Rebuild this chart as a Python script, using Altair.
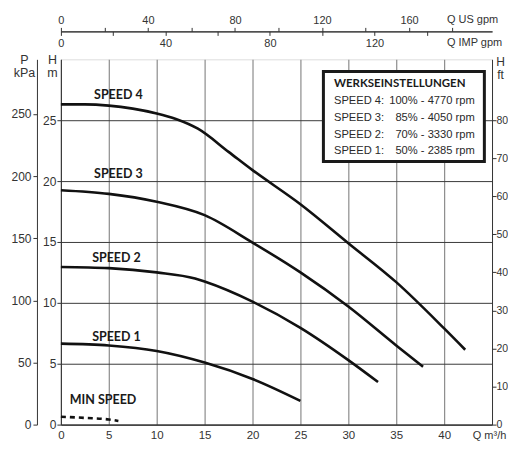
import altair as alt
import pandas as pd

# ---------------- data ----------------
q_s4 = [0, 2.5, 5, 7.5, 10, 12, 14.3, 17.5, 20, 25, 30, 35, 40, 42.2]
h_s4 = [26.3, 26.3, 26.2, 25.95, 25.55, 25.1, 24.3, 22.4, 20.9, 18.1, 14.9, 11.7, 7.9, 6.15]
q_s3 = [0, 5, 10, 15, 20, 25, 30, 35, 37.8]
h_s3 = [19.25, 18.95, 18.3, 17.2, 14.95, 12.5, 9.7, 6.5, 4.75]
q_s2 = [0, 5, 10, 14, 15, 20, 25, 30, 33.1]
h_s2 = [12.95, 12.85, 12.5, 12.0, 11.75, 10.1, 7.95, 5.3, 3.5]
q_s1 = [0, 5, 10, 15, 20, 25]
h_s1 = [6.65, 6.5, 6.05, 5.1, 3.75, 1.95]
q_min = [0, 2.5, 5, 6.0]
h_min = [0.65, 0.55, 0.42, 0.3]

curve_names = ["SPEED 4", "SPEED 3", "SPEED 2", "SPEED 1"]
label_text = ["SPEED 4", "SPEED 3", "SPEED 2", "SPEED 1", "MIN SPEED"]
label_q = [6.0, 6.0, 5.8, 5.8, 4.4]
label_h = [27.1, 20.6, 13.7, 7.2, 2.0]

box_title = "WERKSEINSTELLUNGEN"
box_left = ["SPEED 4:", "SPEED 3:", "SPEED 2:", "SPEED 1:"]
box_right = ["100% - 4770 rpm", "85% - 4050 rpm", "70% - 3330 rpm", "50% - 2385 rpm"]
box_rows_h = [26.55, 25.15, 23.75, 22.45]
box_title_h = 28.0
box_x = [27.4, 44.2]
box_y = [21.6, 29.0]
box_text_left_q = 28.5
box_text_right_q = 43.2

x_ticks = list(range(0, 45, 5))
h_ticks = list(range(0, 30, 5))
p_ticks = list(range(0, 300, 50))
ft_ticks = list(range(0, 90, 10))
us_ticks = list(range(0, 200, 20))
imp_ticks = list(range(0, 160, 20))

Q_MAX = 45
H_MAX = 30
P_MAX = 294
FT_MAX = 96
US_MAX = 45 * 4.4029
IMP_MAX = 45 * 3.6662

W, H = 432, 366

# ---------------- build tables ----------------
rows = []
for name, qs, hs in zip(curve_names, [q_s4, q_s3, q_s2, q_s1], [h_s4, h_s3, h_s2, h_s1]):
    for q, h in zip(qs, hs):
        rows.append({"series": name, "q": q, "h": h})
curves = pd.DataFrame(rows)
minc = pd.DataFrame({"q": q_min, "h": h_min})
labels = pd.DataFrame({"t": label_text, "q": label_q, "h": label_h})
box = pd.DataFrame({"x1": [box_x[0]], "x2": [box_x[1]], "y1": [box_y[0]], "y2": [box_y[1]]})
box_t = pd.DataFrame({"t": [box_title], "h": [box_title_h], "q": [box_text_left_q]})
box_l = pd.DataFrame({"t": box_left, "h": box_rows_h, "q": [box_text_left_q] * 4})
box_r = pd.DataFrame({"t": box_right, "h": box_rows_h, "q": [box_text_right_q] * 4})

BOLDF = "Lato, Liberation Sans, sans-serif"
REG = "Liberation Sans, Arial, sans-serif"
LBL = "#333333"

xs = alt.Scale(domain=[0, Q_MAX], nice=False, zero=False)
ys = alt.Scale(domain=[0, H_MAX], nice=False, zero=False)

x_main = alt.X("q:Q", scale=xs, axis=alt.Axis(
    orient="bottom", values=x_ticks, grid=True, gridColor="#8c8c8c", gridWidth=1.2,
    ticks=False, labelPadding=5, labelFont=REG, labelFontSize=11.5, labelColor=LBL,
    domainColor="#333", domainWidth=1.2, labelFlush=False,
    title="Q  m³/h", titleX=429, titleY=11, titleAlign="center", titleBaseline="middle",
    titleFont=REG, titleFontSize=11, titleFontWeight="normal", titleColor=LBL, titleAngle=0))
y_main = alt.Y("h:Q", scale=ys, axis=alt.Axis(
    orient="left", values=h_ticks, grid=True, gridColor="#3a3a3a", gridWidth=1,
    tickSize=4, tickColor="#333", labelPadding=1, labelFont=REG, labelFontSize=12, labelColor=LBL,
    domainColor="#333", labelFlush=False,
    title=["H", "m"], titleX=-9, titleY=-6, titleAlign="center", titleBaseline="top",
    titleAngle=0, titleFont=REG, titleFontSize=12.5, titleFontWeight="normal", titleColor=LBL,
    titleLineHeight=13))

lines = alt.Chart(curves).mark_line(color="#111", strokeWidth=2.6, interpolate="monotone").encode(
    x=x_main, y=y_main, detail="series:N")
xq = alt.X("q:Q", scale=xs)
yh = alt.Y("h:Q", scale=ys)
min_line = alt.Chart(minc).mark_line(color="#111", strokeWidth=2.6, strokeDash=[5, 4],
                                     interpolate="monotone").encode(x=xq, y=yh)
lab = alt.Chart(labels).mark_text(font=BOLDF, fontSize=12.5, fontWeight="bold", color="#1a1a1a").encode(
    x=xq, y=yh, text="t:N")
rect = alt.Chart(box).mark_rect(fill="white", stroke="#1a1a1a", strokeWidth=3).encode(
    x=alt.X("x1:Q", scale=xs), x2="x2:Q", y=alt.Y("y1:Q", scale=ys), y2="y2:Q")
btitle = alt.Chart(box_t).mark_text(font=BOLDF, fontSize=11.5, fontWeight="bold",
                                    align="left", color="#1a1a1a").encode(x=xq, y=yh, text="t:N")
bleft = alt.Chart(box_l).mark_text(font=REG, fontSize=11.2, align="left",
                                   color="#2a2a2a").encode(x=xq, y=yh, text="t:N")
bright = alt.Chart(box_r).mark_text(font=REG, fontSize=11.2, align="right",
                                    color="#2a2a2a").encode(x=xq, y=yh, text="t:N")

main = alt.layer(lines, min_line, lab, rect, btitle, bleft, bright)

# secondary axes
us = alt.Chart(pd.DataFrame({"v": us_ticks})).mark_point(opacity=0).encode(
    x=alt.X("v:Q", scale=alt.Scale(domain=[0, US_MAX], nice=False), axis=alt.Axis(
        orient="top", offset=28, values=us_ticks, labelExpr="datum.value % 40 == 0 ? datum.label : ''",
        tickSize=4, tickColor="#333", domainColor="#333", labelPadding=2, grid=False,
        labelFont=REG, labelFontSize=11, labelColor=LBL, labelFlush=False,
        title="Q US gpm", titleX=412, titleY=-12, titleAlign="center", titleBaseline="middle",
        titleFont=REG, titleFontSize=11, titleFontWeight="normal", titleColor=LBL)))
imp = alt.Chart(pd.DataFrame({"v": imp_ticks})).mark_point(opacity=0).encode(
    x=alt.X("v:Q", scale=alt.Scale(domain=[0, IMP_MAX], nice=False), axis=alt.Axis(
        orient="bottom", offset=-(H + 28), values=imp_ticks,
        labelExpr="datum.value % 40 == 0 ? datum.label : ''",
        tickSize=4, tickColor="#333", domainColor="#333", labelPadding=2, grid=False,
        labelFont=REG, labelFontSize=11, labelColor=LBL, labelFlush=False,
        title="Q IMP gpm", titleX=414, titleY=11, titleAlign="center", titleBaseline="middle",
        titleFont=REG, titleFontSize=11, titleFontWeight="normal", titleColor=LBL)))
pk = alt.Chart(pd.DataFrame({"v": p_ticks})).mark_point(opacity=0).encode(
    y=alt.Y("v:Q", scale=alt.Scale(domain=[0, P_MAX], nice=False), axis=alt.Axis(
        orient="left", offset=24, values=p_ticks, tickSize=4, tickColor="#333", domainColor="#333",
        labelPadding=2, grid=False, labelFont=REG, labelFontSize=12, labelColor=LBL, labelFlush=False,
        title=["P", "kPa"], titleX=-13, titleY=-6, titleAlign="center", titleBaseline="top",
        titleAngle=0, titleFont=REG, titleFontSize=12.5, titleFontWeight="normal", titleColor=LBL,
        titleLineHeight=13)))
ft = alt.Chart(pd.DataFrame({"v": ft_ticks})).mark_point(opacity=0).encode(
    y=alt.Y("v:Q", scale=alt.Scale(domain=[0, FT_MAX], nice=False), axis=alt.Axis(
        orient="right", values=ft_ticks, tickSize=4, tickColor="#333", domainColor="#333",
        labelPadding=0, grid=False, labelFont=REG, labelFontSize=10.5, labelColor=LBL, labelFlush=False,
        title=["H", "ft"], titleX=8, titleY=-3, titleAlign="center", titleBaseline="top",
        titleAngle=0, titleFont=REG, titleFontSize=12, titleFontWeight="normal", titleColor=LBL,
        titleLineHeight=13)))

chart = alt.layer(main, us, imp, pk, ft).resolve_scale(x="independent", y="independent").properties(
    width=W, height=H, padding={"left": 2, "top": 5, "right": 0, "bottom": 0}
).configure_view(stroke="#444", strokeWidth=1.2).configure(background="white")

chart.save("out.html", embed_options={"renderer": "svg", "actions": False})
